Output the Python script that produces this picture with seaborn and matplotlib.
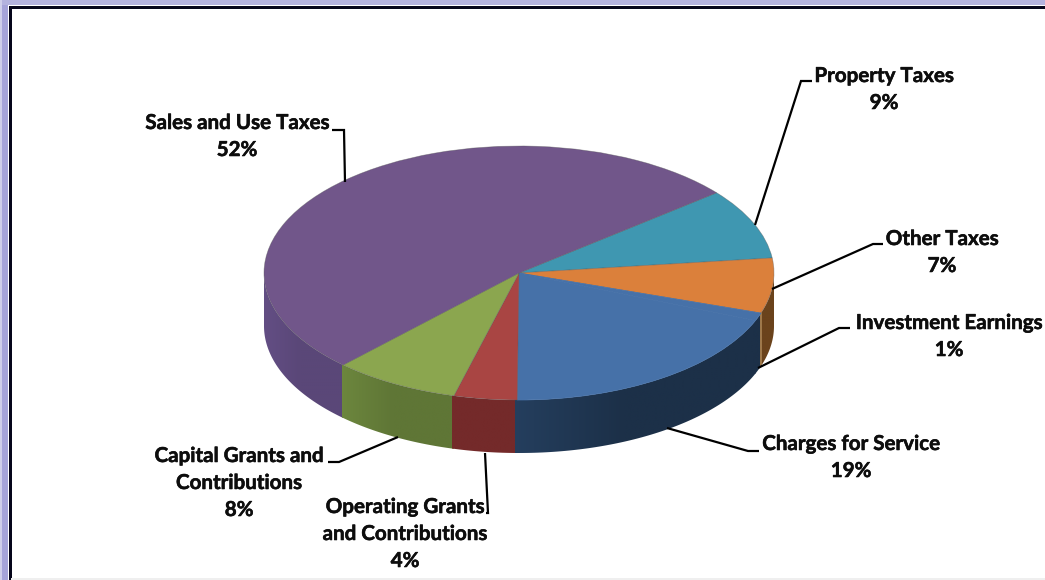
import numpy as np
import matplotlib
matplotlib.use("Agg")
import matplotlib.pyplot as plt
from matplotlib.patches import Rectangle, Polygon
import matplotlib.patheffects as pe
import seaborn as sns

# Revenue shares, listed clockwise from the Property Taxes slice
categories = ["Property Taxes", "Other Taxes", "Investment Earnings", "Charges for Service",
              "Operating Grants\nand Contributions", "Capital Grants and\nContributions",
              "Sales and Use Taxes"]
shares = [9, 7, 1, 19, 4, 8, 52]
top_colors = ["#3f97b1", "#db803b", "#4671a8", "#4671a8", "#a94543", "#8ba64f", "#71568a"]
wall_colors = ["#2b6a7d", "#6b431c", "#1c3048", "#1c3048", "#742a2a", "#5f7636", "#5a4778"]
wall_highlight = [0, 0, 0, 0.3, 0, 0.14, 0.1]

# Label anchors (centre x, first-line y) and leader-line paths, in figure pixels
label_x = [884, 942, 949, 851, 405, 239, 237]
label_y = [75, 238, 322, 443, 506, 455, 122]
leaders = [
    [(812, 81), (801, 81), (755, 225)],
    [(883, 244), (873, 244), (772, 289)],
    [(850, 328), (839, 328), (758, 368)],
    [(759, 451), (748, 451), (667, 428)],
    [(485, 453), (488, 513), (486, 513)],
    [(328, 462), (339, 462), (398, 437)],
    [(332, 130), (344, 130), (345, 182)],
]

START_ANGLE = 39.2
DEPTH = 53 / 127

W, H = 1045, 580
sns.set_theme(style="white")
plt.rcParams["font.family"] = ["Lato", "DejaVu Sans"]
top_palette = sns.color_palette(top_colors)
wall_palette = sns.color_palette(wall_colors)

fig = plt.figure(figsize=(W / 100, H / 100), dpi=100, facecolor="white")

# Axes for the pie body: one unit of x is the radius across, one unit of y the squashed radius
left, right, top, bottom = 264, 774, 146, 453
ax = fig.add_axes([left / W, 1 - bottom / H, (right - left) / W, (bottom - top) / H])
wedges, _ = ax.pie(shares, colors=top_palette, startangle=START_ANGLE, counterclock=False,
                   radius=1, wedgeprops=dict(linewidth=0.5, edgecolor="#55555577", zorder=3))
# The small Investment Earnings slice shares its tint with the slice beside it
for w in wedges[2:4]:
    w.set_edgecolor(w.get_facecolor())
ax.set_aspect("auto")

# Side wall of each slice: a horizontal gradient, lighter toward the slice's left end.
# Each wall runs slightly under the next one so no gap shows between them.
ends = START_ANGLE - np.cumsum(shares) * 3.6
starts = np.r_[START_ANGLE, ends[:-1]]
for a0, a1, col, glow in zip(starts, ends, wall_palette, wall_highlight):
    lo, hi = max(a1 - 0.5, -180), min(a0, 0)
    if lo >= hi:
        continue
    t = np.radians(np.linspace(hi, lo, 80))
    xs, ys = np.cos(t), np.sin(t)
    outline = np.r_[np.c_[xs, ys], np.c_[xs[::-1], ys[::-1] - DEPTH]]
    clip = Polygon(outline, closed=True, transform=ax.transData, fc="none", ec="none")
    ax.add_patch(clip)
    ramp = np.linspace(1, 0, 200)
    shade = 1 + glow * np.clip((ramp - 0.55) / 0.45, 0, 1)
    img = np.clip(np.outer(shade, np.array(col)), 0, 1)[None, :, :]
    im = ax.imshow(img, extent=(xs.min(), xs.max(), ys.min() - DEPTH, ys.max()),
                   aspect="auto", zorder=1 + (a1 - START_ANGLE) / 1000, interpolation="bilinear")
    im.set_clip_path(clip)

# Thin pale seam where the Other Taxes wall meets the one in front of it
seam = np.radians(ends[1])
ax.plot([np.cos(seam)] * 2, [np.sin(seam), np.sin(seam) - DEPTH], color="#a07a4c", lw=1.4,
        zorder=2, solid_capstyle="butt")

ax.set_xlim(-1, 1)
ax.set_ylim(-1 - DEPTH, 1)
ax.axis("off")

# Overlay in pixel coordinates for the frame, leaders and labels
ov = fig.add_axes([0, 0, 1, 1], facecolor="none")
ov.set_xlim(0, W)
ov.set_ylim(H, 0)
ov.axis("off")

ov.add_patch(Rectangle((0, 0), 8, H, color="#a6a4d9", lw=0))
ov.add_patch(Rectangle((0, 0), W, 5, color="#b4b3de", lw=0))
ov.add_patch(Rectangle((0, 0), 1.5, H, color="#cfcfea", lw=0))
ov.add_patch(Rectangle((9, 6), 2.5, H, color="#05051a", lw=0))
ov.add_patch(Rectangle((9, 6), W, 2.5, color="#05051a", lw=0))
ov.add_patch(Rectangle((11, 578), W, 2, color="#efefef", lw=0))

for path in leaders:
    xs, ys = zip(*path)
    ov.plot(xs, ys, color="black", lw=1.6, solid_joinstyle="miter", solid_capstyle="butt")

LINE_GAP = 27
for name, share, x, y in zip(categories, shares, label_x, label_y):
    lines = name.split("\n") + [f"{share}%"]
    for i, line in enumerate(lines):
        ov.text(x, y + i * LINE_GAP + 1, line, ha="center", va="center", fontsize=14.8,
                fontweight="bold", color="#0d0d0d",
                path_effects=[pe.withStroke(linewidth=0.4, foreground="#0d0d0d")])

fig.savefig("out.png", dpi=100, facecolor="white")
